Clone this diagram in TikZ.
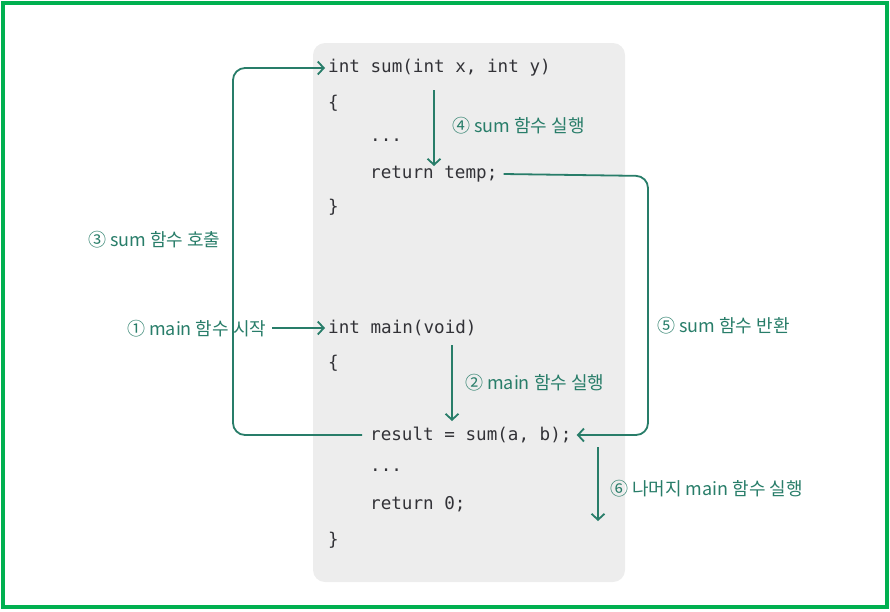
\documentclass[tikz,border=0pt]{standalone}
\usepackage{fontspec}
\setmonofont{DejaVu Sans Mono}
\newfontfamily\kfont{Noto Sans CJK KR}
\usetikzlibrary{arrows.meta}
\definecolor{frame}{RGB}{0,176,80}
\definecolor{teal}{RGB}{40,125,105}
\definecolor{codegray}{RGB}{237,237,237}
\definecolor{codetext}{RGB}{50,50,55}
\tikzset{
  code/.style={anchor=west, inner sep=0pt, font=\ttfamily\fontsize{17.6}{20}\selectfont, text=codetext},
  lbl/.style={anchor=west, inner sep=0pt, font=\kfont\fontsize{18}{20}\selectfont, text=teal},
  flow/.style={draw=teal, line width=1.8pt, -{Straight Barb[length=6pt,width=13pt,line width=1.8pt]}, rounded corners=12pt},
}
\begin{document}
\begin{tikzpicture}[x=1pt,y=-1pt]
\useasboundingbox (0,0) rectangle (890,611);
\draw[frame, line width=4pt] (3,3) rectangle (887,607);
\fill[codegray, rounded corners=12pt] (313,43) rectangle (625,582);
% code
\node[code] (s1) at (328,68) {int sum(int x, int y)};
\node[code] (s2) at (328,103) {\{};
\node[code] (s3) at (370,140) {...};
\node[code] (s4) at (370,174) {return temp;};
\node[code] (s5) at (328,207) {\}};
\node[code] (m1) at (328,328) {int main(void)};
\node[code] (m2) at (328,363) {\{};
\node[code] (m3) at (370,435) {result = sum(a, b);};
\node[code] (m4) at (370,470) {...};
\node[code] (m5) at (370,504) {return 0;};
\node[code] (m6) at (328,540) {\}};
% labels
\node[lbl] (l1) at (127,329) {① main 함수 시작};
\node[lbl] (l2) at (465,383) {② main 함수 실행};
\node[lbl] (l3) at (88,240) {③ sum 함수 호출};
\node[lbl] (l4) at (452,126) {④ sum 함수 실행};
\node[lbl] (l5) at (657,326) {⑤ sum 함수 반환};
\node[lbl] (l6) at (610,489) {⑥ 나머지 main 함수 실행};
% coordinates
\coordinate (a4s) at (434,90);
\coordinate (a4e) at (434,166);
\coordinate (a2s) at (452,345);
\coordinate (a2e) at (452,421);
\coordinate (a6s) at (598,447);
\coordinate (a6e) at (598,521);
\coordinate (a1s) at (272,328);
% arrows
\draw[flow] ([xshift=-8pt]m3.west) -- (233,435) -- (233,68) -- ([xshift=-3pt]s1.west);
\draw[flow] (a1s) -- ([xshift=-3pt]m1.west);
\draw[flow] (a4s) -- (a4e);
\draw[flow] (a2s) -- (a2e);
\draw[flow] ([xshift=6pt]s4.east) -- (648,176) -- (648,435) -- ([xshift=5pt]m3.east);
\draw[flow] (a6s) -- (a6e);
\end{tikzpicture}
\end{document}
